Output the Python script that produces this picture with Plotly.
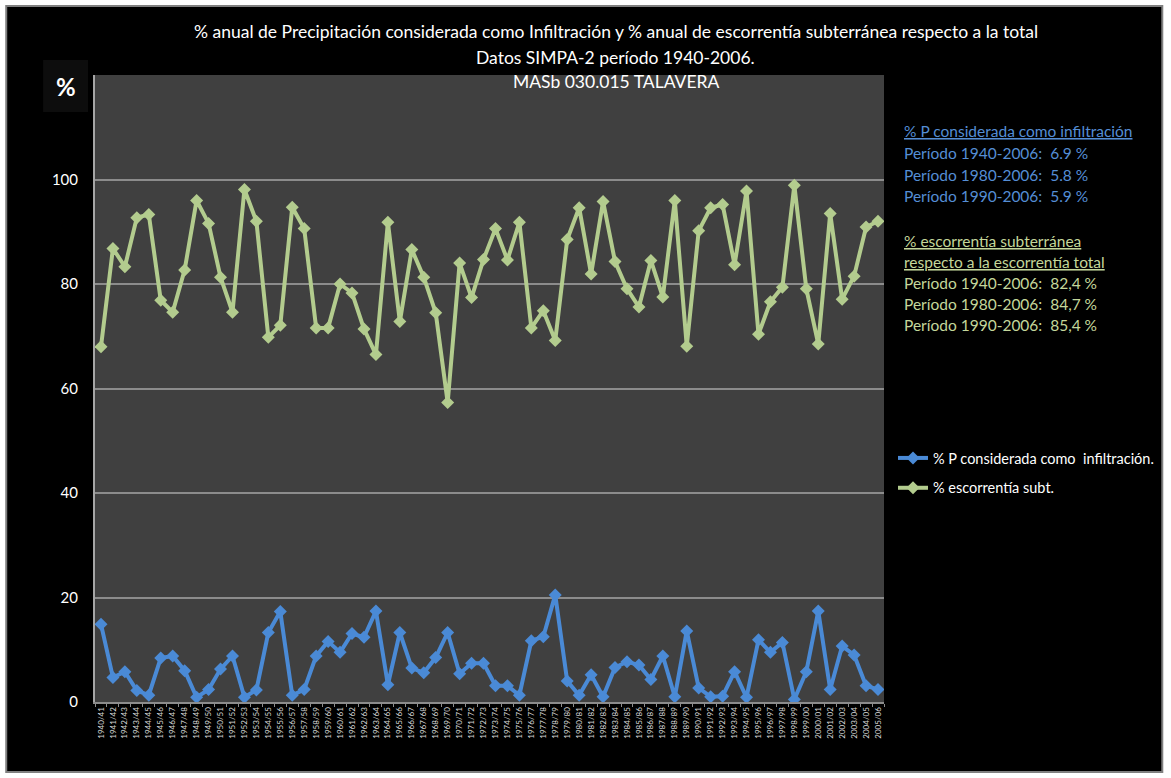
import plotly.graph_objects as go

# Hydrological years 1940/41 ... 2005/06
years = [f"{y}/{str(y + 1)[2:]}" for y in range(1940, 2006)]

# % of annual precipitation considered as infiltration
infiltracion = [
    14.9, 4.7, 5.8, 2.2, 1.3, 8.4, 8.8, 6.0, 0.9, 2.4, 6.3, 8.8, 0.9, 2.3, 13.3,
    17.3, 1.3, 2.4, 8.8, 11.6, 9.5, 13.1, 12.4, 17.4, 3.3, 13.3, 6.5, 5.6, 8.5,
    13.3, 5.4, 7.4, 7.4, 3.1, 3.1, 1.3, 11.7, 12.5, 20.5, 4.0, 1.3, 5.2, 1.0,
    6.6, 7.7, 7.1, 4.3, 8.8, 1.0, 13.6, 2.7, 1.0, 1.1, 5.8, 0.9, 11.9, 9.5,
    11.4, 0.5, 5.8, 17.4, 2.4, 10.7, 9.0, 3.1, 2.4,
]

# % groundwater runoff over total runoff
escorrentia = [
    68.0, 86.8, 83.3, 92.7, 93.3, 76.9, 74.6, 82.7, 96.0, 91.6, 81.3, 74.6, 98.1,
    92.0, 69.8, 72.1, 94.7, 90.6, 71.6, 71.6, 80.0, 78.3, 71.4, 66.5, 91.8, 72.8,
    86.6, 81.3, 74.5, 57.3, 84.0, 77.4, 84.7, 90.6, 84.6, 91.8, 71.6, 74.9, 69.2,
    88.5, 94.6, 81.9, 95.8, 84.3, 79.1, 75.6, 84.5, 77.5, 96.0, 68.1, 90.2, 94.6,
    95.2, 83.7, 97.8, 70.4, 76.6, 79.4, 98.9, 79.1, 68.5, 93.5, 77.1, 81.5, 90.9,
    92.0,
]

y_ticks = [0, 20, 40, 60, 80, 100]

BLUE = "#4a8ad6"
GREEN = "#b3cc8e"
TXT_BLUE = "#558ed5"
TXT_GREEN = "#c4d79b"
FONT = "Lato"

# plot area in pixels: x 95..886, y 75..702
L, R, T, B = 95, 886, 75, 702
W, H = R - L, B - T


def px(x):
    return (x - L) / W


def py(y):
    return (B - y) / H


fig = go.Figure()
fig.add_trace(go.Scatter(
    x=years, y=infiltracion, mode="lines+markers",
    name="% P considerada como  infiltración.", legendgroup="a",
    line=dict(color=BLUE, width=4),
    marker=dict(symbol="diamond", size=10, color=BLUE),
))
fig.add_trace(go.Scatter(
    x=years, y=escorrentia, mode="lines+markers",
    name="% escorrentía subt.", legendgroup="b",
    line=dict(color=GREEN, width=4),
    marker=dict(symbol="diamond", size=10, color=GREEN),
))

shapes = [
    # chart frame
    dict(type="rect", xref="paper", yref="paper", layer="below",
         x0=px(6), x1=px(1165), y0=py(772), y1=py(6),
         fillcolor="black", line=dict(color="#808080", width=2)),
    # plot area
    dict(type="rect", xref="paper", yref="paper", layer="below",
         x0=0, x1=1, y0=0, y1=1, fillcolor="#404040", line=dict(width=0)),
    # box behind the unit label
    dict(type="rect", xref="paper", yref="paper", layer="below",
         x0=px(43), x1=px(88), y0=py(112), y1=py(60),
         fillcolor="#0d0d0d", line=dict(width=0)),
]

annotations = []
title_lines = [
    ("% anual de Precipitación considerada como Infiltración y % anual de escorrentía subterránea respecto a la total", 31),
    ("Datos SIMPA-2 período 1940-2006.", 57),
    ("MASb 030.015 TALAVERA", 81),
]
for text, y in title_lines:
    annotations.append(dict(
        text=text, xref="paper", yref="paper", x=px(617), y=py(y),
        xanchor="center", yanchor="middle", showarrow=False,
        font=dict(family=FONT, size=17.5, color="white"),
    ))

annotations.append(dict(
    text="<b>%</b>", xref="paper", yref="paper", x=px(65.5), y=py(86),
    xanchor="center", yanchor="middle", showarrow=False,
    font=dict(family=FONT, size=24, color="white"),
))

side_blue = [
    ("<u>% P considerada como infiltración</u>", 131),
    ("Período 1940-2006:  6.9 %", 153),
    ("Período 1980-2006:  5.8 %", 175),
    ("Período 1990-2006:  5.9 %", 196),
]
side_green = [
    ("<u>% escorrentía subterránea</u>", 241),
    ("<u>respecto a la escorrentía total</u>", 262),
    ("Período 1940-2006:  82,4 %", 283),
    ("Período 1980-2006:  84,7 %", 304),
    ("Período 1990-2006:  85,4 %", 325),
]
for lines, color in ((side_blue, TXT_BLUE), (side_green, TXT_GREEN)):
    for text, y in lines:
        annotations.append(dict(
            text=text, xref="paper", yref="paper", x=px(904), y=py(y),
            xanchor="left", yanchor="middle", showarrow=False,
            font=dict(family=FONT, size=15.5, color=color),
        ))

fig.update_layout(
    width=1171, height=778,
    margin=dict(l=L, r=1171 - R, t=T, b=778 - B),
    paper_bgcolor="white", plot_bgcolor="#404040",
    font=dict(family=FONT, color="white"),
    shapes=shapes, annotations=annotations,
    showlegend=True,
    legend=dict(
        x=px(895), y=py(442), xanchor="left", yanchor="top",
        bgcolor="rgba(0,0,0,0)", tracegroupgap=8,
        font=dict(family=FONT, size=14.5, color="white"),
    ),
    xaxis=dict(
        type="category", range=[-0.5, len(years) - 0.5],
        showgrid=False, showline=True, linecolor="#8c8c8c", linewidth=2,
        ticks="outside", tickson="boundaries", ticklen=3, tickcolor="#8c8c8c",
        tickangle=-90, tickfont=dict(family=FONT, size=8, color="#d9d9d9"),
        zeroline=False, fixedrange=True,
    ),
    yaxis=dict(
        range=[0, 120], tickvals=y_ticks, ticktext=[str(v) for v in y_ticks],
        showgrid=True, gridcolor="#8c8c8c", gridwidth=1.5,
        showline=True, linecolor="#a6a6a6", linewidth=2,
        zeroline=False, ticks="", ticklabelstandoff=12,
        tickfont=dict(family=FONT, size=15, color="white"),
    ),
)

fig.write_html("out.html")
